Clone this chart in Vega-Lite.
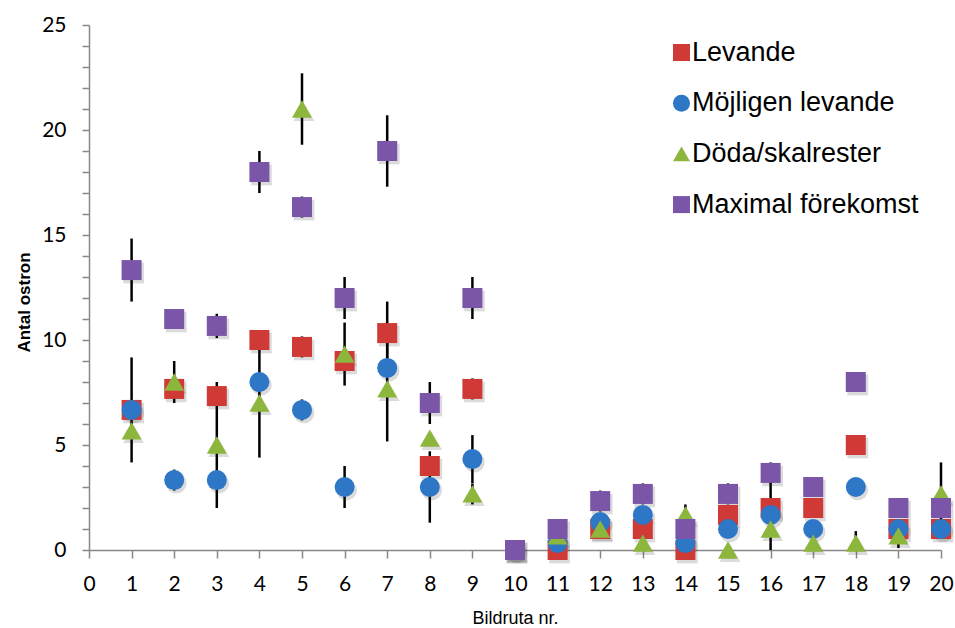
{
  "$schema": "https://vega.github.io/schema/vega-lite/v6.json",
  "autosize": "none",
  "width": 852,
  "height": 525,
  "padding": {"left": 89, "top": 25, "right": 14, "bottom": 78},
  "background": "white",
  "datasets": {
    "antal": [
      {"nr": 1, "serie": "Levande", "antal": 6.67},
      {"nr": 2, "serie": "Levande", "antal": 7.67},
      {"nr": 3, "serie": "Levande", "antal": 7.33},
      {"nr": 4, "serie": "Levande", "antal": 10},
      {"nr": 5, "serie": "Levande", "antal": 9.67},
      {"nr": 6, "serie": "Levande", "antal": 9},
      {"nr": 7, "serie": "Levande", "antal": 10.33},
      {"nr": 8, "serie": "Levande", "antal": 4},
      {"nr": 9, "serie": "Levande", "antal": 7.67},
      {"nr": 10, "serie": "Levande", "antal": 0},
      {"nr": 11, "serie": "Levande", "antal": 0},
      {"nr": 12, "serie": "Levande", "antal": 1},
      {"nr": 13, "serie": "Levande", "antal": 1},
      {"nr": 14, "serie": "Levande", "antal": 0},
      {"nr": 15, "serie": "Levande", "antal": 1.67},
      {"nr": 16, "serie": "Levande", "antal": 2},
      {"nr": 17, "serie": "Levande", "antal": 2},
      {"nr": 18, "serie": "Levande", "antal": 5},
      {"nr": 19, "serie": "Levande", "antal": 1},
      {"nr": 20, "serie": "Levande", "antal": 1},
      {"nr": 1, "serie": "Möjligen levande", "antal": 6.67},
      {"nr": 2, "serie": "Möjligen levande", "antal": 3.33},
      {"nr": 3, "serie": "Möjligen levande", "antal": 3.33},
      {"nr": 4, "serie": "Möjligen levande", "antal": 8},
      {"nr": 5, "serie": "Möjligen levande", "antal": 6.67},
      {"nr": 6, "serie": "Möjligen levande", "antal": 3},
      {"nr": 7, "serie": "Möjligen levande", "antal": 8.67},
      {"nr": 8, "serie": "Möjligen levande", "antal": 3},
      {"nr": 9, "serie": "Möjligen levande", "antal": 4.33},
      {"nr": 10, "serie": "Möjligen levande", "antal": 0},
      {"nr": 11, "serie": "Möjligen levande", "antal": 0.33},
      {"nr": 12, "serie": "Möjligen levande", "antal": 1.33},
      {"nr": 13, "serie": "Möjligen levande", "antal": 1.67},
      {"nr": 14, "serie": "Möjligen levande", "antal": 0.33},
      {"nr": 15, "serie": "Möjligen levande", "antal": 1},
      {"nr": 16, "serie": "Möjligen levande", "antal": 1.67},
      {"nr": 17, "serie": "Möjligen levande", "antal": 1},
      {"nr": 18, "serie": "Möjligen levande", "antal": 3},
      {"nr": 19, "serie": "Möjligen levande", "antal": 1},
      {"nr": 20, "serie": "Möjligen levande", "antal": 1},
      {"nr": 1, "serie": "Döda/skalrester", "antal": 5.67},
      {"nr": 2, "serie": "Döda/skalrester", "antal": 8},
      {"nr": 3, "serie": "Döda/skalrester", "antal": 5},
      {"nr": 4, "serie": "Döda/skalrester", "antal": 7},
      {"nr": 5, "serie": "Döda/skalrester", "antal": 21},
      {"nr": 6, "serie": "Döda/skalrester", "antal": 9.33},
      {"nr": 7, "serie": "Döda/skalrester", "antal": 7.67},
      {"nr": 8, "serie": "Döda/skalrester", "antal": 5.33},
      {"nr": 9, "serie": "Döda/skalrester", "antal": 2.67},
      {"nr": 10, "serie": "Döda/skalrester", "antal": 0},
      {"nr": 11, "serie": "Döda/skalrester", "antal": 0.67},
      {"nr": 12, "serie": "Döda/skalrester", "antal": 1},
      {"nr": 13, "serie": "Döda/skalrester", "antal": 0.33},
      {"nr": 14, "serie": "Döda/skalrester", "antal": 1.67},
      {"nr": 15, "serie": "Döda/skalrester", "antal": 0},
      {"nr": 16, "serie": "Döda/skalrester", "antal": 1},
      {"nr": 17, "serie": "Döda/skalrester", "antal": 0.33},
      {"nr": 18, "serie": "Döda/skalrester", "antal": 0.33},
      {"nr": 19, "serie": "Döda/skalrester", "antal": 0.67},
      {"nr": 20, "serie": "Döda/skalrester", "antal": 2.67},
      {"nr": 1, "serie": "Maximal förekomst", "antal": 13.33},
      {"nr": 2, "serie": "Maximal förekomst", "antal": 11},
      {"nr": 3, "serie": "Maximal förekomst", "antal": 10.67},
      {"nr": 4, "serie": "Maximal förekomst", "antal": 18},
      {"nr": 5, "serie": "Maximal förekomst", "antal": 16.33},
      {"nr": 6, "serie": "Maximal förekomst", "antal": 12},
      {"nr": 7, "serie": "Maximal förekomst", "antal": 19},
      {"nr": 8, "serie": "Maximal förekomst", "antal": 7},
      {"nr": 9, "serie": "Maximal förekomst", "antal": 12},
      {"nr": 10, "serie": "Maximal förekomst", "antal": 0},
      {"nr": 11, "serie": "Maximal förekomst", "antal": 1},
      {"nr": 12, "serie": "Maximal förekomst", "antal": 2.33},
      {"nr": 13, "serie": "Maximal förekomst", "antal": 2.67},
      {"nr": 14, "serie": "Maximal förekomst", "antal": 1},
      {"nr": 15, "serie": "Maximal förekomst", "antal": 2.67},
      {"nr": 16, "serie": "Maximal förekomst", "antal": 3.67},
      {"nr": 17, "serie": "Maximal förekomst", "antal": 3},
      {"nr": 18, "serie": "Maximal förekomst", "antal": 8},
      {"nr": 19, "serie": "Maximal förekomst", "antal": 2},
      {"nr": 20, "serie": "Maximal förekomst", "antal": 2}
    ],
    "fel": [
      {"nr": 5, "serie": "Levande", "lo": 9.17, "hi": 10.17},
      {"nr": 7, "serie": "Levande", "lo": 8.83, "hi": 11.83},
      {"nr": 9, "serie": "Levande", "lo": 7.17, "hi": 8.17},
      {"nr": 1, "serie": "Möjligen levande", "lo": 4.17, "hi": 9.17},
      {"nr": 2, "serie": "Möjligen levande", "lo": 2.83, "hi": 3.83},
      {"nr": 5, "serie": "Möjligen levande", "lo": 6.17, "hi": 7.17},
      {"nr": 6, "serie": "Möjligen levande", "lo": 2, "hi": 4},
      {"nr": 8, "serie": "Möjligen levande", "lo": 1.3, "hi": 4.7},
      {"nr": 9, "serie": "Möjligen levande", "lo": 3.19, "hi": 5.47},
      {"nr": 16, "serie": "Möjligen levande", "lo": 0, "hi": 3.33},
      {"nr": 2, "serie": "Döda/skalrester", "lo": 7, "hi": 9},
      {"nr": 3, "serie": "Döda/skalrester", "lo": 2, "hi": 8},
      {"nr": 4, "serie": "Döda/skalrester", "lo": 4.4, "hi": 9.6},
      {"nr": 5, "serie": "Döda/skalrester", "lo": 19.3, "hi": 22.7},
      {"nr": 6, "serie": "Döda/skalrester", "lo": 7.83, "hi": 10.83},
      {"nr": 7, "serie": "Döda/skalrester", "lo": 5.17, "hi": 10.17},
      {"nr": 9, "serie": "Döda/skalrester", "lo": 2.17, "hi": 3.17},
      {"nr": 14, "serie": "Döda/skalrester", "lo": 1.17, "hi": 2.17},
      {"nr": 18, "serie": "Döda/skalrester", "lo": 0, "hi": 0.9},
      {"nr": 19, "serie": "Döda/skalrester", "lo": 0.09, "hi": 1.25},
      {"nr": 20, "serie": "Döda/skalrester", "lo": 1.17, "hi": 4.17},
      {"nr": 1, "serie": "Maximal förekomst", "lo": 11.83, "hi": 14.83},
      {"nr": 3, "serie": "Maximal förekomst", "lo": 10.09, "hi": 11.25},
      {"nr": 4, "serie": "Maximal förekomst", "lo": 17, "hi": 19},
      {"nr": 5, "serie": "Maximal förekomst", "lo": 15.83, "hi": 16.83},
      {"nr": 6, "serie": "Maximal förekomst", "lo": 11, "hi": 13},
      {"nr": 7, "serie": "Maximal förekomst", "lo": 17.3, "hi": 20.7},
      {"nr": 8, "serie": "Maximal förekomst", "lo": 6, "hi": 8},
      {"nr": 9, "serie": "Maximal förekomst", "lo": 11, "hi": 13},
      {"nr": 12, "serie": "Maximal förekomst", "lo": 1.83, "hi": 2.83},
      {"nr": 13, "serie": "Maximal förekomst", "lo": 2.17, "hi": 3.17},
      {"nr": 15, "serie": "Maximal förekomst", "lo": 2.17, "hi": 3.17},
      {"nr": 16, "serie": "Maximal förekomst", "lo": 3.17, "hi": 4.17}
    ]
  },
  "layer": [
    {
      "data": {"name": "fel"},
      "mark": {"type": "rule", "color": "black", "strokeWidth": 2.5},
      "encoding": {
        "x": {
          "field": "nr", "type": "quantitative",
          "scale": {"domain": [0, 20], "nice": false, "zero": false},
          "axis": {
            "title": "Bildruta nr.",
            "values": [0,1,2,3,4,5,6,7,8,9,10,11,12,13,14,15,16,17,18,19,20],
            "format": "d"
          }
        },
        "y": {
          "field": "lo", "type": "quantitative",
          "scale": {"domain": [0, 25], "nice": false},
          "axis": {
            "title": "Antal ostron",
            "values": [0,1,2,3,4,5,6,7,8,9,10,11,12,13,14,15,16,17,18,19,20,21,22,23,24,25],
            "labelExpr": "datum.value % 5 === 0 ? datum.label : ''",
            "labelOverlap": false
          }
        },
        "y2": {"field": "hi"}
      }
    },
    {
      "data": {"name": "antal"},
      "mark": {"type": "point", "filled": true, "opacity": 1, "color": "rgba(40,40,40,0.17)", "xOffset": 2, "yOffset": 3, "size": 430},
      "encoding": {
        "x": {"field": "nr", "type": "quantitative"},
        "y": {
          "field": "antal", "type": "quantitative",
          "axis": {
            "title": "Antal ostron",
            "values": [0,1,2,3,4,5,6,7,8,9,10,11,12,13,14,15,16,17,18,19,20,21,22,23,24,25],
            "labelExpr": "datum.value % 5 === 0 ? datum.label : ''",
            "labelOverlap": false
          }
        },
        "shape": {"field": "serie", "type": "nominal"}
      }
    },
    {
      "data": {"name": "antal"},
      "mark": {"type": "point", "filled": true, "opacity": 1, "size": 400},
      "encoding": {
        "x": {"field": "nr", "type": "quantitative"},
        "y": {
          "field": "antal", "type": "quantitative",
          "axis": {
            "title": "Antal ostron",
            "values": [0,1,2,3,4,5,6,7,8,9,10,11,12,13,14,15,16,17,18,19,20,21,22,23,24,25],
            "labelExpr": "datum.value % 5 === 0 ? datum.label : ''",
            "labelOverlap": false
          }
        },
        "color": {
          "field": "serie", "type": "nominal",
          "scale": {
            "domain": ["Levande", "Möjligen levande", "Döda/skalrester", "Maximal förekomst"],
            "range": ["#CF3A36", "#2E76C6", "#8CB63C", "#7A55A8"]
          },
          "legend": {
            "title": null,
            "orient": "none",
            "legendX": 579,
            "legendY": 14,
            "direction": "vertical",
            "symbolSize": 290,
            "symbolOpacity": 1,
            "symbolStrokeWidth": 0,
            "labelFont": "Liberation Sans",
            "labelFontSize": 27,
            "labelColor": "black",
            "labelOffset": -3,
            "labelLimit": 400,
            "rowPadding": 22.7
          }
        },
        "shape": {
          "field": "serie", "type": "nominal",
          "scale": {
            "domain": ["Levande", "Möjligen levande", "Döda/skalrester", "Maximal förekomst"],
            "range": ["square", "circle", "triangle-up", "square"]
          }
        }
      }
    }
  ],
  "config": {
    "view": {"stroke": null},
    "axis": {
      "grid": false,
      "labelOverlap": false,
      "labelFlush": false,
      "domainColor": "#888888",
      "domainWidth": 1.5,
      "tickColor": "#888888",
      "tickWidth": 1.5,
      "labelFont": "Lato",
      "labelFontSize": 21,
      "labelColor": "black",
      "titleFont": "Liberation Sans",
      "titleColor": "black"
    },
    "axisX": {
      "tickSize": 8,
      "labelPadding": 15,
      "titleFontSize": 18,
      "titleFontWeight": "normal",
      "titlePadding": 15
    },
    "axisY": {
      "tickSize": 7,
      "labelPadding": 16,
      "titleFontSize": 17,
      "titleFontWeight": "bold",
      "titlePadding": 8,
      "titleY": 277
    }
  }
}
